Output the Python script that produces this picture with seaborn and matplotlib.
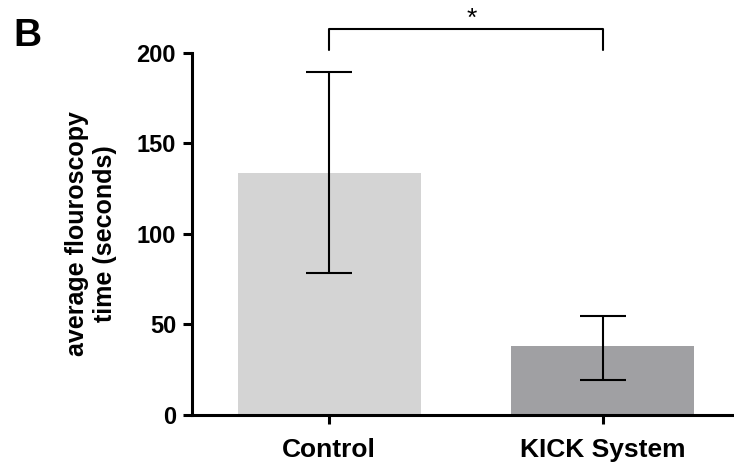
import matplotlib
matplotlib.use('Agg')
import matplotlib.pyplot as plt
import seaborn as sns
import pandas as pd

# Data
groups = ['Control', 'KICK System']
mean_time = [133.8, 38.3]
err_low = [55.6, 18.8]
err_high = [55.4, 16.3]
bar_colors = ['#d4d4d4', '#a09fa4']

# significance bracket between the two groups
sig_label = '*'
bracket_top = 213
bracket_foot = 201.5

sns.set_theme(style='ticks')
plt.rcParams['font.family'] = ['Liberation Sans', 'DejaVu Sans']
plt.rcParams['font.weight'] = 'bold'
for key in ['text.color', 'axes.labelcolor', 'xtick.color', 'ytick.color', 'axes.edgecolor']:
    plt.rcParams[key] = 'black'

df = pd.DataFrame({'group': groups, 'time': mean_time})

fig = plt.figure(figsize=(7.34, 4.65), dpi=100)
ax = fig.add_axes([0.2616, 0.1075, 0.7384, 0.7792])

sns.barplot(data=df, x='group', y='time', hue='group', palette=bar_colors,
            width=0.67, linewidth=0, legend=False, ax=ax)

# error bars
ax.errorbar(range(len(groups)), mean_time, yerr=[err_low, err_high], fmt='none',
            ecolor='black', elinewidth=1.5, capsize=16.5, capthick=1.5)

# bracket + asterisk
ax.plot([0, 0, 1, 1], [bracket_foot, bracket_top, bracket_top, bracket_foot],
        color='black', lw=1.5, clip_on=False)
ax.text(0.52, bracket_top + 2, sig_label, ha='center', va='baseline',
        fontsize=19, fontweight='normal')

ax.set_ylim(0, 200)
ax.set_xlim(-0.502, 1.48)
ax.set_yticks([0, 50, 100, 150, 200])
ax.set_xlabel('')
ax.set_ylabel('average flouroscopy\ntime (seconds)', fontsize=18,
              fontweight='bold', labelpad=14)

sns.despine(ax=ax)
for s in ['left', 'bottom']:
    ax.spines[s].set_linewidth(2.2)
ax.tick_params(axis='both', length=6.5, width=2.2)
ax.tick_params(axis='y', labelsize=17, pad=5)
ax.tick_params(axis='x', labelsize=19, pad=10)
for lbl in ax.get_xticklabels() + ax.get_yticklabels():
    lbl.set_fontweight('bold')

fig.text(0.018, 0.962, 'B', fontsize=28, fontweight='bold', va='top', ha='left')

fig.savefig('out.png', dpi=100)
